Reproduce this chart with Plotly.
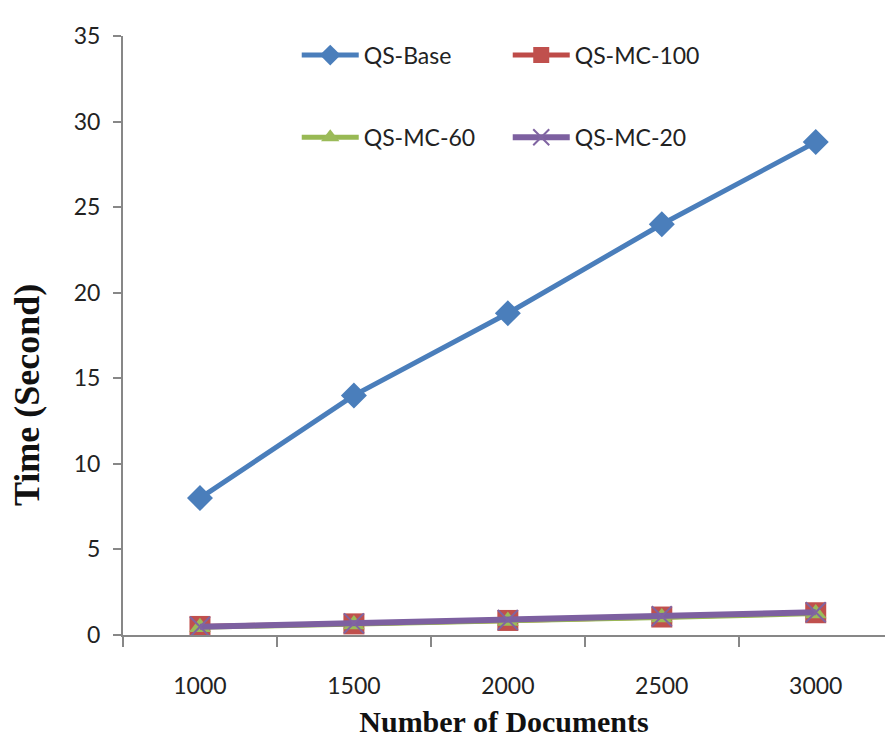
import plotly.graph_objects as go

docs = ["1000", "1500", "2000", "2500", "3000"]
qs_base = [8.0, 14.0, 18.8, 24.0, 28.8]
qs_mc100 = [0.5, 0.65, 0.85, 1.05, 1.3]
qs_mc60 = [0.45, 0.62, 0.82, 1.02, 1.25]
qs_mc20 = [0.48, 0.68, 0.88, 1.1, 1.33]

fig = go.Figure()
fig.add_trace(go.Scatter(x=docs, y=qs_base, name="QS-Base", mode="lines+markers",
                         line=dict(color="#4A7EBB", width=5),
                         marker=dict(symbol="diamond", size=20, color="#4A7EBB"),
                         legend="legend"))
fig.add_trace(go.Scatter(x=docs, y=qs_mc100, name="QS-MC-100", mode="lines+markers",
                         line=dict(color="#BE4B48", width=5),
                         marker=dict(symbol="square", size=21, color="#C0504D"),
                         legend="legend"))
fig.add_trace(go.Scatter(x=docs, y=qs_mc60, name="QS-MC-60", mode="lines+markers",
                         line=dict(color="#98B954", width=5),
                         marker=dict(symbol="triangle-up", size=19, color="#9BBB59"),
                         legend="legend2"))
fig.add_trace(go.Scatter(x=docs, y=qs_mc20, name="QS-MC-20", mode="lines+markers",
                         line=dict(color="#7D60A0", width=6),
                         marker=dict(symbol="x-thin", size=20, color="#8064A2",
                                     line=dict(color="#8064A2", width=2)),
                         legend="legend2"))

legend_common = dict(orientation="h", xanchor="left", yanchor="middle",
                     font=dict(family="Lato, Open Sans, sans-serif", size=23, color="#222"),
                     bgcolor="rgba(0,0,0,0)", itemwidth=57, entrywidth=139,
                     tracegroupgap=0, itemclick=False)

fig.update_layout(
    width=885, height=738,
    margin=dict(l=123, r=0, t=36, b=103),
    paper_bgcolor="white", plot_bgcolor="white",
    showlegend=True,
    legend=dict(x=0.228, y=0.968, **legend_common),
    legend2=dict(x=0.228, y=0.831, **legend_common),
    xaxis=dict(type="category", range=[-0.5, 4.45], tickson="boundaries",
               showline=True, linecolor="#878787", linewidth=2,
               ticks="outside", ticklen=10, tickwidth=2, tickcolor="#878787",
               ticklabelstandoff=29, automargin=False,
               showgrid=False, zeroline=False,
               tickfont=dict(family="Lato, Open Sans, sans-serif", size=23, color="#222"),
               title=dict(text="<b>Number of Documents</b>", standoff=14,
                          font=dict(family="Liberation Serif, Times New Roman, serif", size=30, color="#111"))),
    yaxis=dict(range=[0, 35], tickvals=[0, 5, 10, 15, 20, 25, 30, 35],
               showline=True, linecolor="#878787", linewidth=2,
               ticks="outside", ticklen=8, tickwidth=2, tickcolor="#878787",
               ticklabelstandoff=8, automargin=False,
               showgrid=False, zeroline=False,
               tickfont=dict(family="Lato, Open Sans, sans-serif", size=23, color="#222")),
    annotations=[dict(text="<b>Time (Second)</b>", xref="paper", yref="paper",
                      x=-123 / 762 + 27 / 762, y=(635 - 395) / 599,
                      xanchor="center", yanchor="middle", textangle=-90, showarrow=False,
                      font=dict(family="Liberation Serif, Times New Roman, serif", size=36, color="#111"))],
)

fig.write_html("out.html")
